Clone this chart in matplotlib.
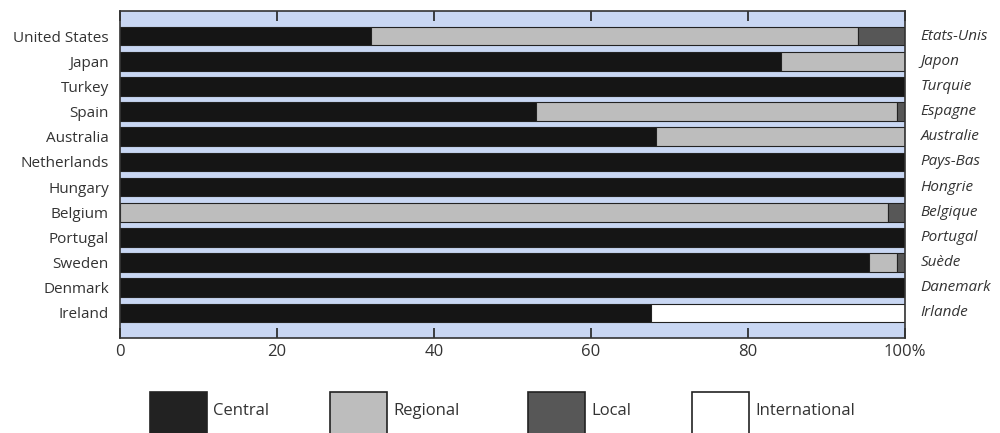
import numpy as np
import matplotlib.pyplot as plt
from matplotlib.patches import Rectangle

# ================================
# DATA (percent shares)
# ================================
countries = ["United States", "Japan", "Turkey", "Spain", "Australia", "Netherlands",
             "Hungary", "Belgium", "Portugal", "Sweden", "Denmark", "Ireland"]
pays = ["Etats-Unis", "Japon", "Turquie", "Espagne", "Australie", "Pays-Bas",
        "Hongrie", "Belgique", "Portugal", "Suède", "Danemark", "Irlande"]
central = [32, 84.2, 100, 53, 68.3, 100, 100, 0, 100, 95.4, 100, 67.6]
regional = [62, 15.8, 0, 46, 31.7, 0, 0, 97.8, 0, 3.6, 0, 0]
local = [6, 0, 0, 1, 0, 0, 0, 2.2, 0, 1, 0, 0]
international = [0, 0, 0, 0, 0, 0, 0, 0, 0, 0, 0, 32.4]

series_names = ["Central", "Regional", "Local", "International"]
colors = ["#151515", "#bdbdbd", "#575757", "#ffffff"]
BG = "#c9d7f3"
TXT = "#333333"

plt.rcParams['font.family'] = ['Open Sans', 'DejaVu Sans']

fig = plt.figure(figsize=(10, 4.33), dpi=100)
ax = fig.add_axes([0.12, 0.2194, 0.785, 0.7552])
ax.set_facecolor(BG)

y = np.arange(len(countries))
left = np.zeros(len(countries))
for vals, c in zip([central, regional, local, international], colors):
    vals = np.array(vals)
    ax.barh(y, vals, left=left, height=0.74, color=c, edgecolor="#222222", linewidth=0.8)
    left += vals

ax.set_xlim(0, 100)
ax.set_ylim(len(countries), -1)
ax.set_yticks(y)
ax.set_yticklabels(countries, fontsize=11, color=TXT)
ax.tick_params(axis='y', length=0, pad=8)

ax.set_xticks([0, 20, 40, 60, 80, 100])
ax.set_xticklabels(["0", "20", "40", "60", "80", "100%"], fontsize=12, color=TXT)
ax.tick_params(axis='x', direction='in', length=7, width=1.2, color="#222222",
               top=True, pad=4)

for s in ax.spines.values():
    s.set_color("#333333")
    s.set_linewidth(1.2)

# French labels on the right
for yi, name in zip(y, pays):
    ax.text(1.02, yi, name, transform=ax.get_yaxis_transform(), va='center', ha='left',
            fontsize=11, style='italic', color=TXT)

# ================================
# LEGEND (drawn by hand, cut at the bottom like the original)
# ================================
lax = fig.add_axes([0, 0, 1, 1], xlim=(0, 1000), ylim=(433, 0), zorder=-1)
lax.axis('off')
leg_x = [150, 330, 528, 692]
for x0, name, c in zip(leg_x, series_names, colors):
    fc = "#222222" if c == "#151515" else c
    lax.add_patch(Rectangle((x0, 392), 57, 50, facecolor=fc, edgecolor="#222222",
                            linewidth=1.2))
    lax.text(x0 + 63, 411, name, va='center', ha='left', fontsize=12, color=TXT)

fig.savefig("out.png", dpi=100)
